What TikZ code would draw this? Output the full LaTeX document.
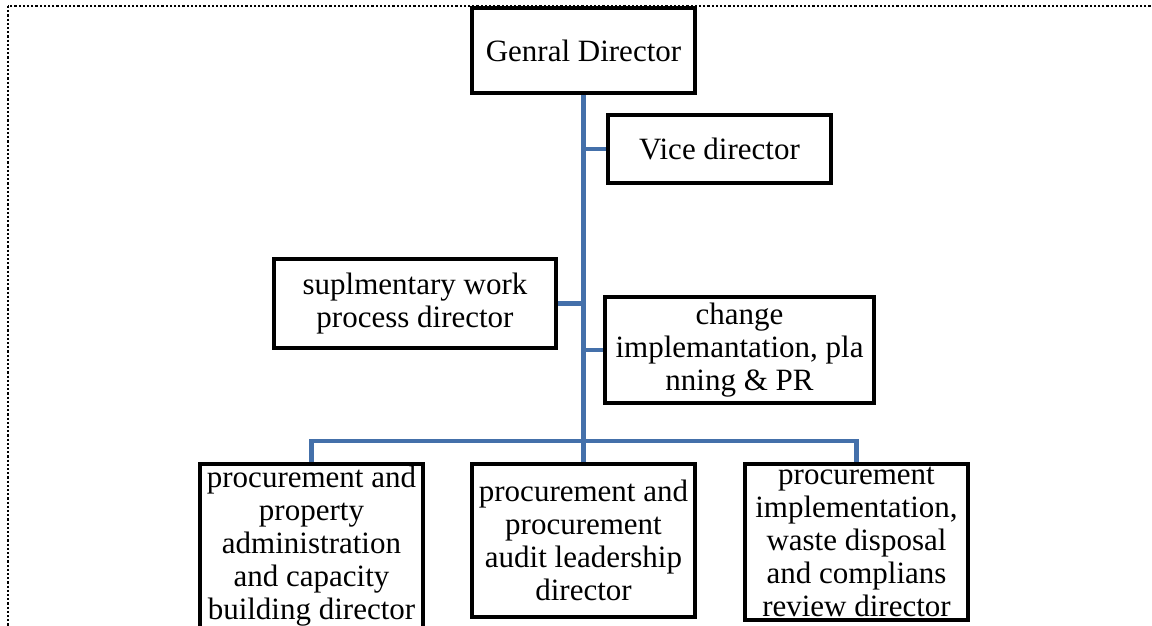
\documentclass[tikz,border=0pt]{standalone}
\usepackage{fontspec}
\setmainfont{Liberation Serif}
\definecolor{linkblue}{RGB}{68,112,170}

\begin{document}
\begin{tikzpicture}[
    x=0.5pt, y=-0.5pt,
    box_style/.style={draw, line width=2pt, align=center, inner sep=0pt,
        font=\fontsize{15.5}{16.5}\selectfont},
    link_style/.style={draw=linkblue, line width=2.2pt},
    frame_style/.style={densely dotted, line width=1.1pt}
]

    \useasboundingbox (0,0) rectangle (1152,626);
    \clip (0,0) rectangle (1152,626);

    % Outer frame
    \draw[frame_style] (8,6) rectangle (1180,680);

    % Directors
    \node[box_style, minimum width=111.5pt, minimum height=42.5pt] (gd) at (583.5,50.5) {Genral Director};
    \node[box_style, minimum width=111.5pt, minimum height=34pt] (vice) at (719.5,149) {Vice director};
    \node[box_style, minimum width=141pt, minimum height=44.5pt] (supl) at (415,303.5) {suplmentary work\\process director};
    \node[box_style, minimum width=134.5pt, minimum height=53pt] (chg) at (739.5,350) {change\\implemantation, pla\\nning \& PR};

    % Lower row
    \node[box_style, minimum width=111.5pt, minimum height=82pt] (pa) at (311.5,546) {procurement and\\property\\administration\\and capacity\\building director};
    \node[box_style, minimum width=111.5pt, minimum height=76.5pt] (au) at (583.5,540.5) {procurement and\\procurement\\audit leadership\\director};
    \node[box_style, minimum width=111.5pt, minimum height=78pt] (wd) at (856.5,542) {procurement\\implementation,\\waste disposal\\and complians\\review director};

    \coordinate (bus) at (583.5,441);

    % Links
    \draw[link_style] (gd.south) -- (au.north);
    \draw[link_style] (vice.west) -- (vice.west -| gd.south);
    \draw[link_style] (supl.east) -- (supl.east -| gd.south);
    \draw[link_style] (chg.west) -- (chg.west -| gd.south);
    \draw[link_style] (pa.north) |- (bus) -| (wd.north);

\end{tikzpicture}
\end{document}
